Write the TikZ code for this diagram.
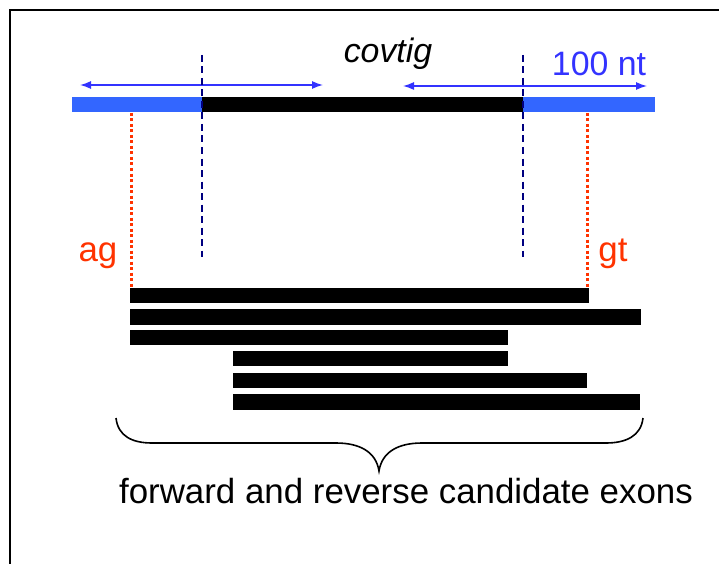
\documentclass[tikz,border=0pt]{standalone}
\usepackage{fontspec}
\setmainfont{Liberation Sans}
\usetikzlibrary{arrows.meta}
\definecolor{flankblue}{RGB}{51,102,255}
\definecolor{arrowblue}{RGB}{51,51,255}
\definecolor{navyline}{RGB}{0,0,128}
\definecolor{siteorange}{RGB}{255,51,0}
\tikzset{
  lbl/.style={font=\fontsize{35}{40}\selectfont, inner sep=0pt, anchor=base},
  exonbar/.style={fill=black, draw=none},
  flank/.style={fill=flankblue, draw=none},
  span/.style={draw=arrowblue, line width=1.4bp, {Latex[length=11bp,width=8bp]}-{Latex[length=11bp,width=8bp]}},
  boundary/.style={draw=navyline, line width=1.3bp, dash pattern=on 7bp off 4.5bp},
  splice/.style={draw=siteorange, line width=3bp, dash pattern=on 3bp off 2.5bp},
  frame/.style={draw=black, line width=2bp},
}
\begin{document}
\begin{tikzpicture}[x=1bp, y=-1bp]
\useasboundingbox (0,0) rectangle (719,564);
\fill[white] (0,0) rectangle (719,564);

% slide frame (left and top edges)
\draw[frame] (10,564) -- (10,10) -- (719,10);

% contig with 100 nt flanks
\fill[flank] (72,97) rectangle (202,112);
\fill[exonbar] (202,97) rectangle (523,112);
\fill[flank] (523,97) rectangle (655,112);

% extent arrows
\coordinate (la) at (80,85);
\coordinate (lb) at (323,85);
\coordinate (ra) at (403,86);
\coordinate (rb) at (647,86);
\draw[span] (la) -- (lb);
\draw[span] (ra) -- (rb);

% contig boundaries
\coordinate (b1t) at (202,55);
\coordinate (b1b) at (202,257);
\coordinate (b2t) at (523,55);
\coordinate (b2b) at (523,257);
\draw[boundary] (b1t) -- (b1b);
\draw[boundary] (b2t) -- (b2b);

% splice-site guides
\coordinate (s1t) at (131,113);
\coordinate (s1b) at (131,289);
\coordinate (s2t) at (587,113);
\coordinate (s2b) at (587,289);
\draw[splice] (s1t) -- (s1b);
\draw[splice] (s2t) -- (s2b);

% labels
\node[lbl, font=\fontsize{34}{38}\selectfont\itshape] (covtig) at (388,63) {covtig};
\node[lbl, font=\fontsize{34}{38}\selectfont, text=arrowblue] (nt) at (599,76) {100 nt};
\node[lbl, text=siteorange] (ag) at (98,261) {ag};
\node[lbl, text=siteorange] (gt) at (613,261) {gt};

% candidate exons
\fill[exonbar] (130,288) rectangle (589,303);
\fill[exonbar] (130,309) rectangle (641,325);
\fill[exonbar] (130,330) rectangle (508,345);
\fill[exonbar] (233,351) rectangle (508,366);
\fill[exonbar] (233,373) rectangle (587,388);
\fill[exonbar] (233,394) rectangle (640,410);

% grouping brace
\coordinate (brl) at (116,418);
\coordinate (brr) at (643,418);
\coordinate (brtip) at (379,471);
\draw[line width=1.6bp] (brl) .. controls (118,436) and (132,443) .. (152,443)
  -- (336,443) .. controls (360,443) and (376,452) .. (brtip)
  .. controls (382,452) and (398,443) .. (422,443)
  -- (606,443) .. controls (626,443) and (641,436) .. (brr);

\node[lbl] (caption) at (406,503) {forward and reverse candidate exons};
\end{tikzpicture}
\end{document}
